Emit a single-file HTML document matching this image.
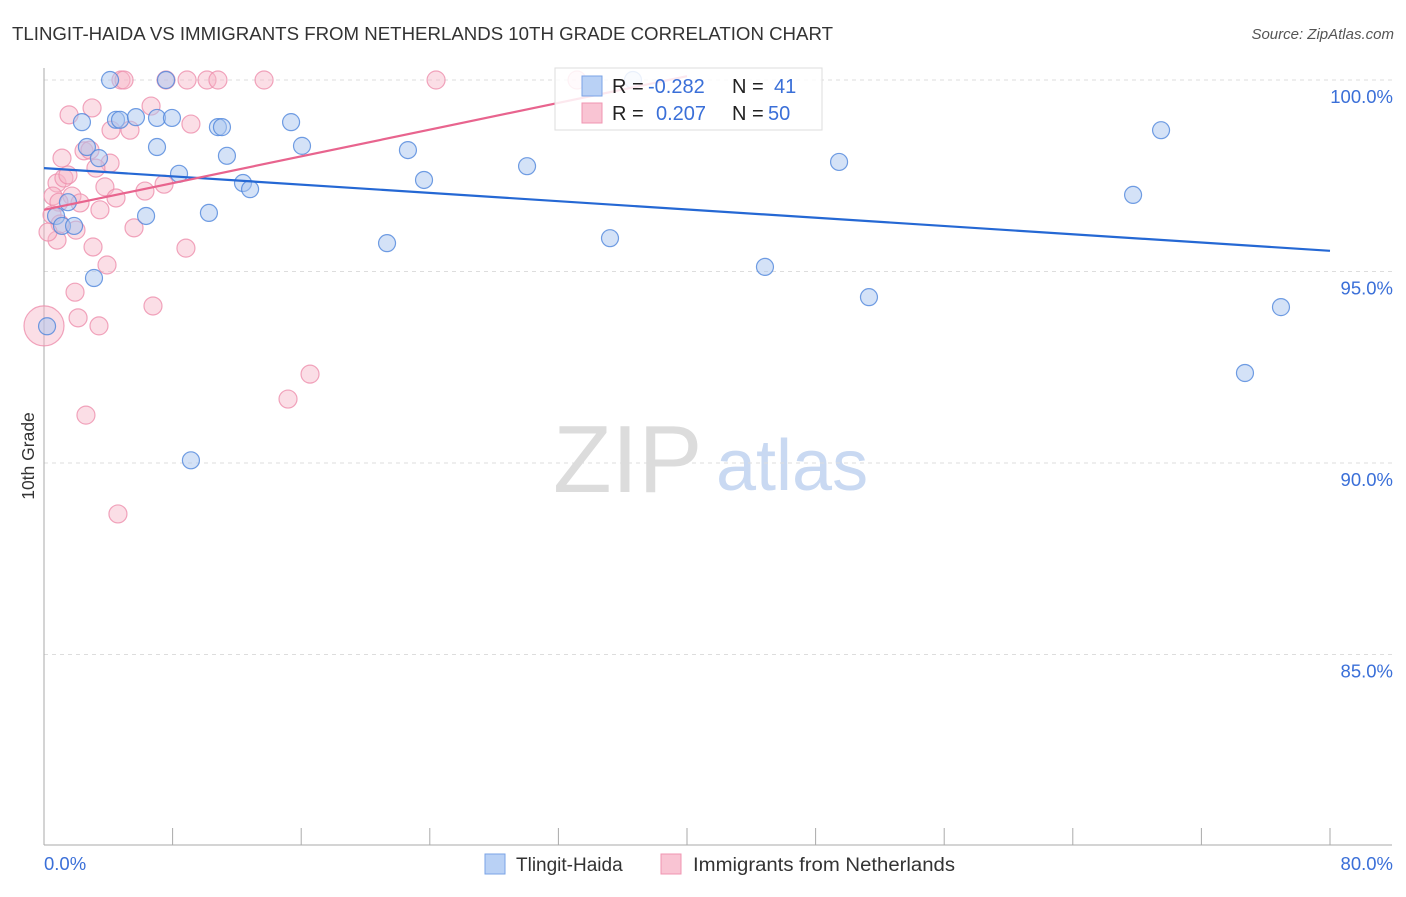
<!DOCTYPE html>
<html><head><meta charset="utf-8">
<style>
body{margin:0;background:#fff;font-family:"Liberation Sans",sans-serif;}
svg text{font-family:"Liberation Sans",sans-serif;}
</style></head>
<body>
<svg id="chart" width="1406" height="892" xmlns="http://www.w3.org/2000/svg">
<text x="12" y="40" font-size="18.4" fill="#333" textLength="821" lengthAdjust="spacingAndGlyphs">TLINGIT-HAIDA VS IMMIGRANTS FROM NETHERLANDS 10TH GRADE CORRELATION CHART</text>
<text x="1394" y="39" font-size="15" fill="#555" text-anchor="end" font-style="italic">Source: ZipAtlas.com</text>
<g>
<text x="553" y="492" font-size="96" fill="#dcdcdc" font-family="Liberation Serif,serif">ZIP</text>
<text x="716" y="490" font-size="72" fill="#c9d9f2">atlas</text>
</g>
<g id="grid"></g>
<g id="axes"></g>
<g id="pts"></g>
<g id="lines"></g>
<g>
<rect x="555" y="68" width="267" height="62" fill="#fff" fill-opacity="0.85" stroke="#ddd"/>
<rect x="582" y="76" width="20" height="20" fill="#b9d1f5" stroke="#7aa3e6"/>
<rect x="582" y="103" width="20" height="20" fill="#f9c4d3" stroke="#f095b2"/>
<text x="612" y="93" font-size="20" fill="#222">R = </text><text x="648" y="93" font-size="20" fill="#3a6fd8">-0.282</text>
<text x="732" y="93" font-size="20" fill="#222">N = </text><text x="774" y="93" font-size="20" fill="#3a6fd8">41</text>
<text x="612" y="120" font-size="20" fill="#222">R = </text><text x="656" y="120" font-size="20" fill="#3a6fd8">0.207</text>
<text x="732" y="120" font-size="20" fill="#222">N = </text><text x="768" y="120" font-size="20" fill="#3a6fd8">50</text>
</g>
<g>
<rect x="485" y="854" width="20" height="20" fill="#b9d1f5" stroke="#7aa3e6"/>
<text x="516" y="871" font-size="19" fill="#333">Tlingit-Haida</text>
<rect x="661" y="854" width="20" height="20" fill="#f9c4d3" stroke="#f095b2"/>
<text x="693" y="871" font-size="19" fill="#333" textLength="262" lengthAdjust="spacingAndGlyphs">Immigrants from Netherlands</text>
</g>
<text transform="translate(34,456) rotate(-90)" font-size="17.5" fill="#333" text-anchor="middle">10th Grade</text>
<text x="44" y="870" font-size="18.5" fill="#3a6fd8">0.0%</text>
<text x="1393" y="870" font-size="18.5" fill="#3a6fd8" text-anchor="end">80.0%</text>
</svg>
<script>
const yTicks=[100,95,90,85];
const yTickLabels=["100.0%","95.0%","90.0%","85.0%"];
const xTicks=[0,8,16,24,32,40,48,56,64,72,80];
const blueX=[4.11,7.59,36.64,2.36,4.48,4.73,5.72,7.03,7.96,10.82,11.07,15.37,7.03,2.67,11.38,16.05,22.64,3.42,8.40,12.38,12.82,23.64,30.05,49.46,69.49,67.75,6.35,10.26,0.75,1.12,1.87,1.49,21.34,35.21,44.85,3.11,51.32,76.95,0.19,74.71,9.14];
const blueY=[100,100,100,98.90,98.96,98.96,99.03,99.01,99.01,98.77,98.77,98.90,98.25,98.25,98.02,98.28,98.17,97.96,97.55,97.31,97.15,97.39,97.75,97.86,98.69,97.00,96.45,96.53,96.45,96.19,96.19,96.81,95.74,95.87,95.12,94.83,94.33,94.07,93.57,92.35,90.07];
const pinkX=[4.79,4.98,7.59,8.90,10.14,10.82,13.69,24.39,33.16,1.56,2.99,6.66,1.12,4.17,5.35,9.14,2.49,2.86,4.11,3.23,0.81,1.24,1.49,3.79,6.28,7.47,0.56,1.74,4.48,2.24,0.93,0.50,1.99,5.60,0.81,3.05,3.92,8.83,1.93,6.78,2.12,3.42,0,16.55,15.18,2.61,4.60,1.00,0.25,3.48];
const pinkY=[100,100,100,100,100,100,100,100,100,99.09,99.27,99.32,97.96,98.69,98.69,98.85,98.15,98.17,97.83,97.70,97.31,97.44,97.52,97.21,97.10,97.28,96.97,96.97,96.92,96.79,96.81,96.48,96.08,96.14,95.82,95.64,95.17,95.61,94.46,94.10,93.79,93.58,93.58,92.32,91.67,91.25,88.67,96.24,96.03,96.61];
const pinkR=[9,9,9,9,9,9,9,9,9,9,9,9,9,9,9,9,9,9,9,9,9,9,9,9,9,9,9,9,9,9,9,9,9,9,9,9,9,9,9,9,9,9,20,9,9,9,9,9,9,9];
const blueLine=[[0,97.70],[80,95.54]];
const pinkLine=[[0,96.61],[40,100.1]];
const X=v=>44+v/80*1286;
const Y=v=>80+(100-v)*38.3;
const NS="http://www.w3.org/2000/svg";
function mk(t,a,p){const e=document.createElementNS(NS,t);for(const k in a)e.setAttribute(k,a[k]);p.appendChild(e);return e;}
const grid=document.getElementById('grid'),axes=document.getElementById('axes'),pts=document.getElementById('pts'),lines=document.getElementById('lines');
yTicks.forEach((t,i)=>{
 const l=mk('line',{x1:44,x2:1392,y1:Y(t),y2:Y(t),stroke:'#ddd','stroke-dasharray':'4,4'},grid);
 
 
 const tx=mk('text',{x:1393,y:Y(t)+23,'font-size':18.5,fill:'#3a6fd8','text-anchor':'end'},axes);
 tx.textContent=yTickLabels[i];
 
 
});
const ya=mk('line',{x1:44,x2:44,y1:68,y2:845,stroke:'#aaa'},axes);


const xa=mk('line',{x1:44,x2:1392,y1:845,y2:845,stroke:'#aaa'},axes);


xTicks.forEach(t=>{
 const l=mk('line',{x1:X(t),x2:X(t),y1:828,y2:845,stroke:'#aaa'},axes);
 
 
});
pinkX.forEach((x,i)=>{
 const c=mk('circle',{cx:X(x),cy:Y(pinkY[i]),r:pinkR[i],fill:'#f7b6c8','fill-opacity':0.45,stroke:'#ee8fad','stroke-opacity':0.8,'stroke-width':1.2},pts);
 
 
});
blueX.forEach((x,i)=>{
 const c=mk('circle',{cx:X(x),cy:Y(blueY[i]),r:8.5,fill:'#a9c6f0','fill-opacity':0.5,stroke:'#4f86dc','stroke-opacity':0.8,'stroke-width':1.2},pts);
 
 
});
const bl=mk('line',{x1:X(blueLine[0][0]),y1:Y(blueLine[0][1]),x2:X(blueLine[1][0]),y2:Y(blueLine[1][1]),stroke:'#2568d4','stroke-width':2.2},lines);


const pl=mk('line',{x1:X(pinkLine[0][0]),y1:Y(pinkLine[0][1]),x2:X(pinkLine[1][0]),y2:Y(pinkLine[1][1]),stroke:'#e8648e','stroke-width':2.2},lines);


</script>
</body></html>
